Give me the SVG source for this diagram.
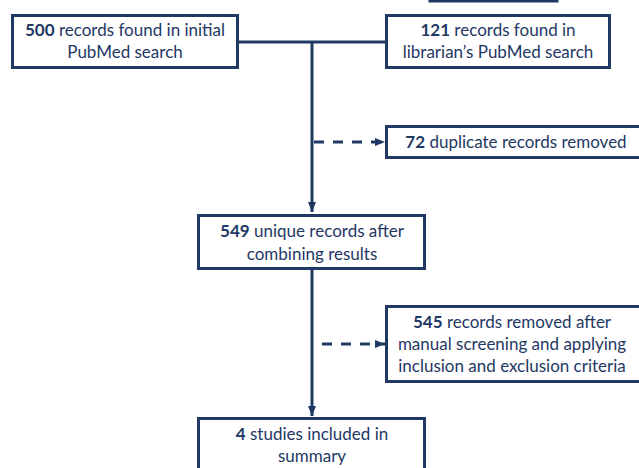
<svg xmlns="http://www.w3.org/2000/svg" width="639" height="468" viewBox="0 0 639 468">
<defs>
<style>
.box{fill:#fff;stroke:#1f3864;stroke-width:3}
.t{font-family:Lato,"Liberation Sans",sans-serif;font-size:17px;fill:#1f3864;text-anchor:middle}
.b{font-weight:bold}
.ln{stroke:#1f3864;stroke-width:3;fill:none}
.dash{stroke:#1f3864;stroke-width:3;fill:none;stroke-dasharray:10 9}
</style>
<marker id="ah" viewBox="0 0 10 10" refX="10" refY="5" markerWidth="10" markerHeight="10" markerUnits="userSpaceOnUse" orient="auto">
<path d="M0,1 L10,5 L0,9 Z" fill="#1f3864"/>
</marker>
</defs>
<rect width="639" height="468" fill="#fff"/>
<g id="connectors">
<path class="ln" d="M238,42 H386"/>
<path class="ln" d="M312,42 V212" marker-end="url(#ah)"/>
<path class="dash" d="M314,142 H385" marker-end="url(#ah)"/>
<path class="ln" d="M312,268 V416" marker-end="url(#ah)"/>
<path class="dash" d="M322,344 H385" marker-end="url(#ah)"/>
</g>
<g id="node-top-partial">
<rect class="box" x="430" y="-30" width="127" height="31"/>
</g>
<g id="node-500">
<rect class="box" x="12.5" y="15.5" width="225" height="52"/>
<text class="t" x="125" y="36"><tspan class="b">500</tspan> records found in initial</text>
<text class="t" x="125" y="58">PubMed search</text>
</g>
<g id="node-121">
<rect class="box" x="386.5" y="15.5" width="223" height="52"/>
<text class="t" x="498" y="36"><tspan class="b">121</tspan> records found in</text>
<text class="t" x="498" y="58">librarian’s PubMed search</text>
</g>
<g id="node-72">
<rect class="box" x="386.5" y="126.5" width="262" height="31"/>
<text class="t" x="516" y="148"><tspan class="b">72</tspan> duplicate records removed</text>
</g>
<g id="node-549">
<rect class="box" x="198.5" y="215.5" width="226" height="53"/>
<text class="t" x="312" y="237"><tspan class="b">549</tspan> unique records after</text>
<text class="t" x="312" y="260">combining results</text>
</g>
<g id="node-545">
<rect class="box" x="386.5" y="306.5" width="262" height="75"/>
<text class="t" x="512" y="328"><tspan class="b">545</tspan> records removed after</text>
<text class="t" x="512" y="350">manual screening and applying</text>
<text class="t" x="512" y="372">inclusion and exclusion criteria</text>
</g>
<g id="node-4">
<rect class="box" x="198.5" y="418.5" width="226" height="60"/>
<text class="t" x="312" y="440"><tspan class="b">4</tspan> studies included in</text>
<text class="t" x="312" y="462">summary</text>
</g>
</svg>
